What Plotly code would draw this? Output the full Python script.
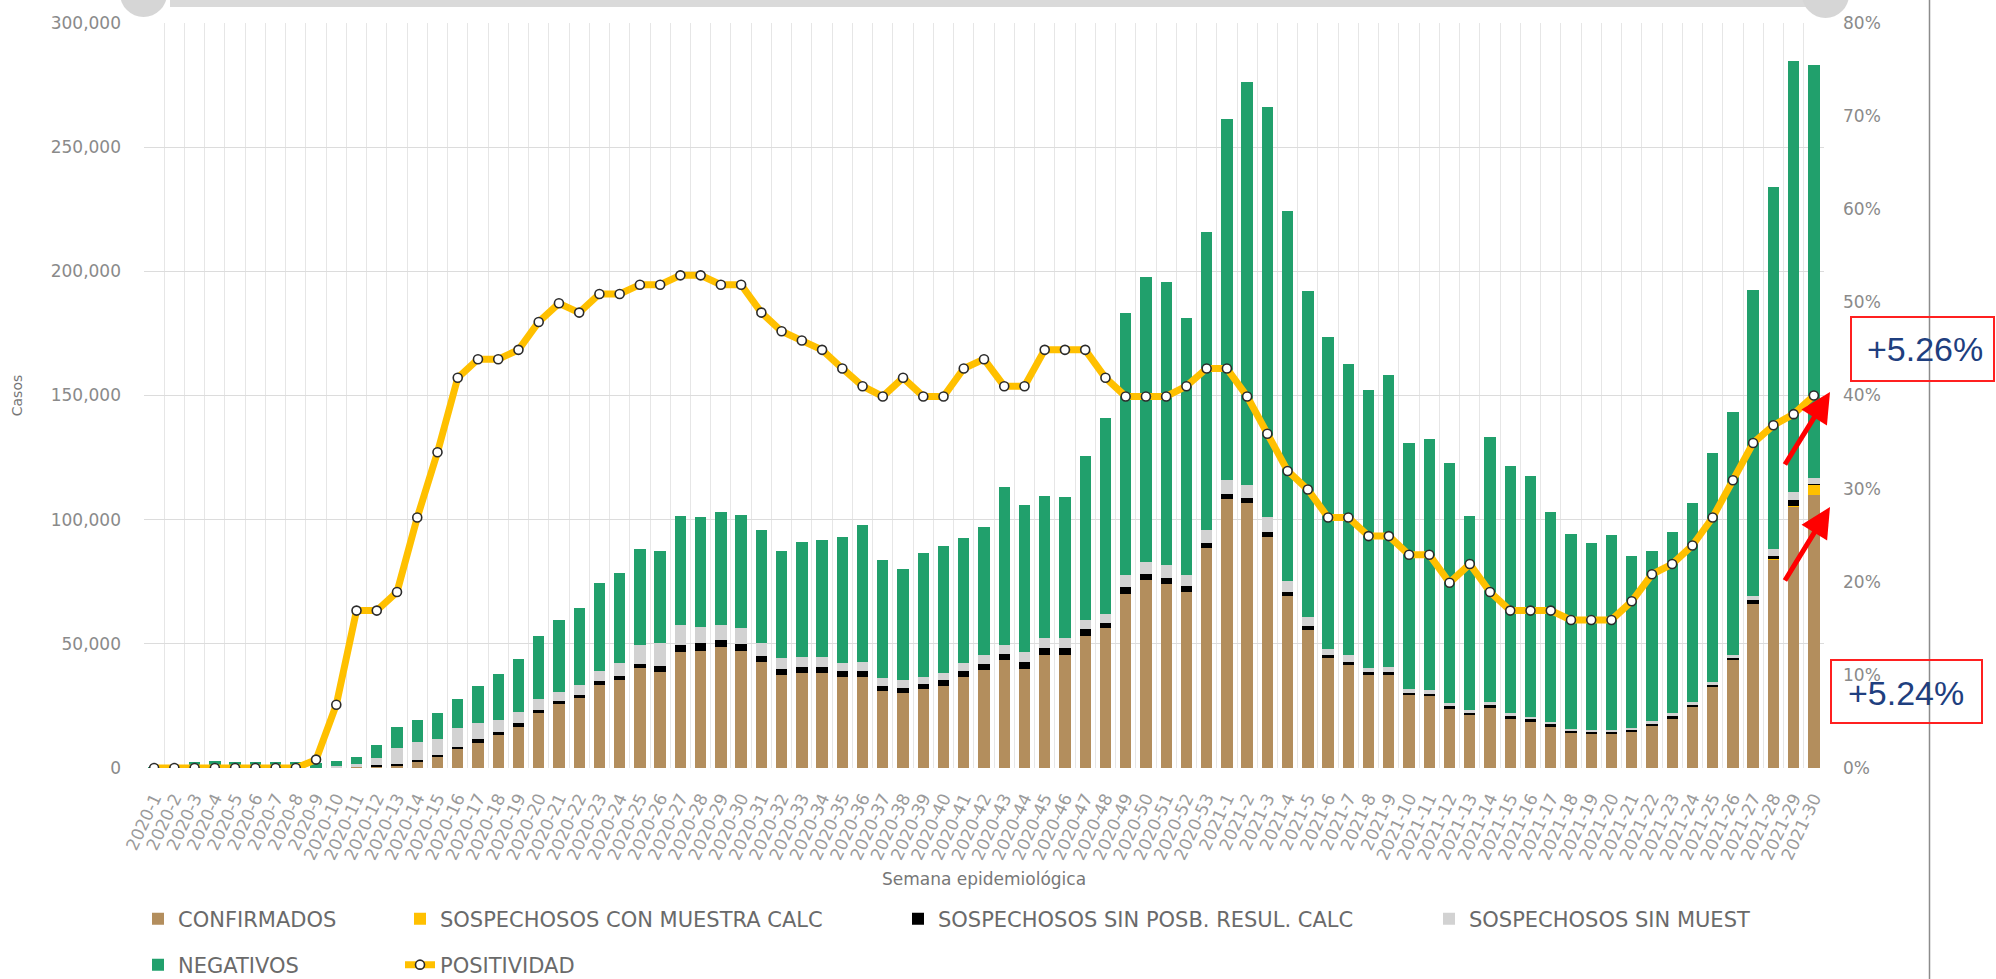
import plotly.graph_objects as go

semanas = [
    "2020-1", "2020-2", "2020-3", "2020-4", "2020-5", "2020-6", "2020-7", "2020-8", "2020-9", "2020-10",
    "2020-11", "2020-12", "2020-13", "2020-14", "2020-15", "2020-16", "2020-17", "2020-18", "2020-19", "2020-20",
    "2020-21", "2020-22", "2020-23", "2020-24", "2020-25", "2020-26", "2020-27", "2020-28", "2020-29", "2020-30",
    "2020-31", "2020-32", "2020-33", "2020-34", "2020-35", "2020-36", "2020-37", "2020-38", "2020-39", "2020-40",
    "2020-41", "2020-42", "2020-43", "2020-44", "2020-45", "2020-46", "2020-47", "2020-48", "2020-49", "2020-50",
    "2020-51", "2020-52", "2020-53", "2021-1", "2021-2", "2021-3", "2021-4", "2021-5", "2021-6", "2021-7",
    "2021-8", "2021-9", "2021-10", "2021-11", "2021-12", "2021-13", "2021-14", "2021-15", "2021-16", "2021-17",
    "2021-18", "2021-19", "2021-20", "2021-21", "2021-22", "2021-23", "2021-24", "2021-25", "2021-26", "2021-27",
    "2021-28", "2021-29", "2021-30",
]

confirmados = [
    0, 0, 0, 0, 0, 0, 0, 0, 10, 200,
    500, 800, 1200, 2800, 4600, 7500, 10200, 13300, 16400, 22000,
    25800, 28100, 33400, 35400, 40100, 38800, 46800, 47200, 48900, 47200,
    42800, 37400, 38100, 38100, 36700, 36700, 31100, 30300, 31800, 33000,
    36700, 39400, 43500, 39700, 45500, 45500, 53100, 56200, 70000, 75600,
    74000, 70900, 88400, 108200, 106600, 92900, 69200, 55700, 44300, 41500,
    37400, 37400, 29200, 28800, 23900, 21300, 24300, 19900, 18600, 16600,
    14000, 13700, 13700, 14600, 16900, 19900, 24600, 32600, 43300, 66100,
    83800, 105200, 110000,
]

sosp_con_muestra = [
    0, 0, 0, 0, 0, 0, 0, 0, 0, 0,
    0, 0, 0, 0, 0, 0, 0, 0, 0, 0,
    0, 0, 0, 0, 0, 0, 0, 0, 0, 0,
    0, 0, 0, 0, 0, 0, 0, 0, 0, 0,
    0, 0, 0, 0, 0, 0, 0, 0, 0, 0,
    0, 0, 0, 0, 0, 0, 0, 0, 0, 0,
    0, 0, 0, 0, 0, 0, 0, 0, 0, 0,
    0, 0, 0, 0, 0, 0, 0, 0, 0, 100,
    200, 300, 4000,
]

sosp_sin_posib = [
    0, 0, 0, 0, 0, 0, 0, 0, 0, 50,
    100, 300, 400, 600, 800, 1100, 1300, 1300, 1600, 1400,
    1300, 1300, 1600, 1600, 1800, 2300, 2900, 3000, 2600, 2800,
    2300, 2300, 2400, 2400, 2300, 2300, 1900, 2100, 2200, 2400,
    2400, 2300, 2400, 3100, 3000, 3000, 2700, 2000, 2700, 2700,
    2700, 2300, 2300, 2100, 2000, 2300, 1700, 1300, 1100, 1100,
    1100, 1100, 1000, 1100, 1000, 900, 1000, 1000, 1000, 1000,
    900, 900, 900, 900, 1000, 1000, 900, 900, 1000, 1300,
    1300, 2500, 300,
]

sosp_sin_muestra = [
    0, 0, 0, 0, 0, 0, 0, 0, 0, 500,
    1200, 3000, 6400, 7200, 6300, 7400, 6500, 4700, 4700, 4300,
    3600, 4000, 4200, 5200, 7600, 9100, 7900, 6700, 6100, 6200,
    5100, 4400, 4300, 4300, 3400, 3800, 3100, 3000, 2700, 2700,
    3000, 3700, 3600, 4000, 3700, 3700, 4000, 4000, 5000, 4700,
    4900, 4500, 5100, 5600, 5400, 6000, 4400, 4000, 2700, 2800,
    1600, 2300, 1700, 1600, 1400, 1100, 1400, 1100, 1100, 1000,
    700, 700, 700, 800, 1100, 1100, 1200, 1100, 1400, 1600,
    2700, 3300, 2500,
]

negativos = [
    300, 800, 2500, 2900, 2300, 2300, 2300, 2300, 1900, 2200,
    2500, 5000, 8400, 8700, 10300, 11800, 15000, 18600, 21300, 25500,
    28900, 31200, 35200, 36200, 38700, 37300, 43900, 44000, 45600, 45700,
    45700, 43400, 46300, 47200, 50500, 55000, 47700, 44700, 50000, 51100,
    50400, 51500, 63600, 59200, 57200, 56800, 66000, 78700, 105400, 114600,
    114200, 103600, 120200, 145300, 162400, 164800, 149100, 131100, 125300, 117200,
    112100, 117500, 99100, 100900, 96400, 78200, 106500, 99600, 96900, 84300,
    78700, 75500, 78600, 69100, 68500, 72900, 80200, 92400, 97500, 123200,
    145800, 173500, 166300,
]

positividad = [
    0, 0, 0, 0, 0, 0, 0, 0, 0.9, 6.8,
    16.9, 16.9, 18.9, 26.9, 33.9, 41.9, 43.9, 43.9, 44.9, 47.9,
    49.9, 48.9, 50.9, 50.9, 51.9, 51.9, 52.9, 52.9, 51.9, 51.9,
    48.9, 46.9, 45.9, 44.9, 42.9, 41.0, 39.9, 41.9, 39.9, 39.9,
    42.9, 43.9, 41.0, 41.0, 44.9, 44.9, 44.9, 41.9, 39.9, 39.9,
    39.9, 41.0, 42.9, 42.9, 39.9, 35.9, 31.9, 29.9, 26.9, 26.9,
    24.9, 24.9, 22.9, 22.9, 19.9, 21.9, 18.9, 16.9, 16.9, 16.9,
    15.9, 15.9, 15.9, 17.9, 20.8, 21.9, 23.9, 26.9, 30.9, 34.9,
    36.8, 38.0, 40.0,
]

y_ticks = [0, 50000, 100000, 150000, 200000, 250000, 300000]
y2_ticks = [0, 10, 20, 30, 40, 50, 60, 70, 80]
y2_ticktext = ["0%", "10%", "20%", "30%", "40%", "50%", "60%", "70%", "80%"]

FONT = "DejaVu Sans"
TICK_COLOR = "#8a8a8a"
XTICK_COLOR = "#9a9a9a"
LEG_COLOR = "#6a6a6a"

COL_CONF = "#B38E5D"
COL_YEL = "#FFC000"
COL_BLK = "#000000"
COL_GRY = "#D2D2D2"
COL_NEG = "#21A06C"

W, H = 1996, 979
ML, MR, MT, MB = 144, 172, 23, 211
PW = W - ML - MR
PH = H - MT - MB


def px(xp):
    return (xp - ML) / PW


def py(yp):
    return (H - MB - yp) / PH


fig = go.Figure()

series = [
    ("CONFIRMADOS", confirmados, COL_CONF, "legend"),
    ("SOSPECHOSOS CON MUESTRA CALC", sosp_con_muestra, COL_YEL, "legend2"),
    ("SOSPECHOSOS SIN POSB. RESUL. CALC", sosp_sin_posib, COL_BLK, "legend3"),
    ("SOSPECHOSOS SIN MUEST", sosp_sin_muestra, COL_GRY, "legend4"),
    ("NEGATIVOS", negativos, COL_NEG, "legend5"),
]
for name, vals, col, leg in series:
    fig.add_trace(go.Bar(
        x=semanas, y=vals, name=name, marker=dict(color=col, line=dict(width=0)),
        legend=leg,
    ))

fig.add_trace(go.Scatter(
    x=semanas, y=positividad, name="POSITIVIDAD", yaxis="y2", mode="lines+markers",
    line=dict(color=COL_YEL, width=7),
    marker=dict(size=9, color="white", line=dict(color="#2b2b2b", width=1.6)),
    legend="legend6",
))

legend_common = dict(
    font=dict(family=FONT, size=21, color=LEG_COLOR),
    bgcolor="rgba(0,0,0,0)", orientation="h", xanchor="left", yanchor="middle",
    borderwidth=0,
)
leg_pos = {
    "legend": (178, 919),
    "legend2": (440, 919),
    "legend3": (938, 919),
    "legend4": (1469, 919),
    "legend5": (178, 965),
    "legend6": (440, 965),
}
for key, (tx, ty) in leg_pos.items():
    fig.update_layout(**{key: dict(legend_common, x=px(tx - 40), y=py(ty))})

fig.update_layout(
    width=W, height=H,
    margin=dict(l=ML, r=MR, t=MT, b=MB, autoexpand=False),
    paper_bgcolor="white", plot_bgcolor="white",
    barmode="stack", bargap=0.44,
    showlegend=True,
    font=dict(family=FONT, color=TICK_COLOR),
    xaxis=dict(
        type="category", range=[-0.5, len(semanas) - 0.5], autorange=False,
        tickangle=-65, tickson="boundaries",
        showgrid=True, gridcolor="#E6E6E6", gridwidth=1,
        ticks="", showline=False, zeroline=False,
        tickfont=dict(family=FONT, size=17, color=XTICK_COLOR),
        ticklabelstandoff=16,
        title=dict(text="Semana epidemiológica", font=dict(family=FONT, size=17, color="#777777"), standoff=10),
    ),
    yaxis=dict(
        range=[0, 300000], tickvals=y_ticks, tickformat=",",
        showgrid=True, gridcolor="#DCDCDC", gridwidth=1, zeroline=False, showline=False,
        ticks="", tickfont=dict(family=FONT, size=17, color=TICK_COLOR),
        ticklabelstandoff=22,
        title=dict(text="Casos", font=dict(family=FONT, size=14, color="#777777"), standoff=24),
    ),
    yaxis2=dict(
        overlaying="y", side="right", range=[0, 80], tickvals=y2_ticks, ticktext=y2_ticktext,
        showgrid=False, zeroline=False, showline=False, ticks="",
        tickfont=dict(family=FONT, size=17, color=TICK_COLOR),
        ticklabelstandoff=18,
    ),
)

shapes = [
    # top slider decoration
    dict(type="rect", xref="paper", yref="paper", x0=px(170), x1=px(1808), y0=py(7), y1=py(-10),
         fillcolor="#DADADA", line=dict(width=0), layer="below"),
    dict(type="circle", xref="paper", yref="paper", x0=px(120), x1=px(167), y0=py(17), y1=py(-30),
         fillcolor="#D6D6D6", line=dict(width=0)),
    dict(type="circle", xref="paper", yref="paper", x0=px(1802), x1=px(1849), y0=py(18), y1=py(-29),
         fillcolor="#D6D6D6", line=dict(width=0)),
    # right border line
    dict(type="line", xref="paper", yref="paper", x0=px(1929.5), x1=px(1929.5), y0=py(985), y1=py(-5),
         line=dict(color="#8c8c8c", width=1.5)),
    # red boxes
    dict(type="rect", xref="paper", yref="paper", x0=px(1851), x1=px(1994), y0=py(381), y1=py(317),
         line=dict(color="#FF2020", width=2), fillcolor="rgba(0,0,0,0)"),
    dict(type="rect", xref="paper", yref="paper", x0=px(1831), x1=px(1982), y0=py(723), y1=py(660),
         line=dict(color="#FF2020", width=2), fillcolor="rgba(0,0,0,0)"),
]
fig.update_layout(shapes=shapes)

annotations = [
    dict(text="+5.26%", xref="paper", yref="paper", x=px(1925.5), y=py(349), showarrow=False,
         font=dict(family="Liberation Sans", size=34, color="#1F3F7F"), xanchor="center", yanchor="middle"),
    dict(text="+5.24%", xref="paper", yref="paper", x=px(1906), y=py(693), showarrow=False,
         font=dict(family="Liberation Sans", size=34, color="#1F3F7F"), xanchor="center", yanchor="middle"),
    dict(text="", xref="paper", yref="paper", x=px(1830), y=py(392), ax=-46, ay=74,
         showarrow=True, arrowhead=2, arrowsize=1.2, arrowwidth=5, arrowcolor="#FF0000", standoff=0),
    dict(text="", xref="paper", yref="paper", x=px(1830), y=py(507), ax=-46, ay=75,
         showarrow=True, arrowhead=2, arrowsize=1.2, arrowwidth=5, arrowcolor="#FF0000", standoff=0),
]
fig.update_layout(annotations=annotations)

fig.write_html(
    "out.html",
    config={"displayModeBar": False},
    post_script="document.body.style.margin='0';",
)
